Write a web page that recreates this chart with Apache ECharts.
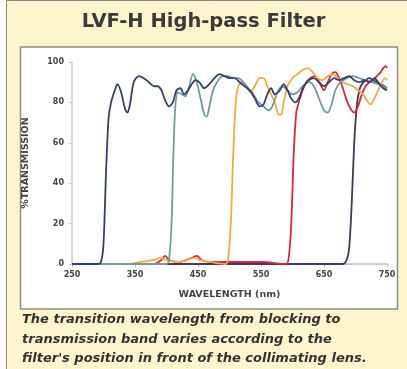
<!DOCTYPE html>
<html>
  <head>
    <meta charset="utf-8">
    <title>LVF-H High-pass Filter</title>
    <style>
      html, body { margin: 0; padding: 0; background: #fff; }
    </style>
  </head>
  <body>
    <div id="main" style="width: 407px;height:369px;"></div>
  </body>
  <script type="text/javascript" src="https://cdn.jsdelivr.net/npm/echarts@6/dist/echarts.min.js"></script>
  <script type="text/javascript">
      // wavelength (nm) / transmission (%)
      var navyNm = [250, 290, 296, 300, 304, 308, 312, 318, 322, 328, 334, 338, 342, 348, 356, 364, 372, 380, 386, 392, 398, 404, 410, 416, 422, 428, 434, 440, 446, 452, 460, 468, 476, 484, 492, 500, 508, 516, 524, 532, 540, 548, 554, 560, 566, 572, 580, 586, 592, 598, 604, 610, 618, 626, 634, 642, 650, 658, 666, 674, 682, 690, 698, 706, 714, 722, 730, 738, 744, 750];
      var navyT  = [0, 0, 1, 10, 45, 72, 80, 86, 89, 85, 77, 75, 79, 90, 93, 92, 90, 88, 88, 86, 81, 78, 80, 86, 87, 84, 86, 89, 91, 90, 87, 89, 92, 94, 93, 92, 92, 90, 88, 86, 82, 78, 79, 84, 87, 84, 86, 89, 86, 82, 80, 82, 88, 91, 92, 90, 88, 90, 92, 91, 92, 93, 91, 90, 91, 90, 92, 89, 87, 86];

      var tealNm = [250, 400, 404, 408, 411, 414, 418, 424, 430, 436, 442, 448, 454, 460, 464, 468, 474, 482, 490, 498, 506, 514, 522, 530, 538, 546, 554, 562, 568, 576, 584, 592, 600, 608, 616, 626, 634, 642, 650, 656, 662, 668, 676, 686, 696, 706, 716, 726, 736, 744, 750];
      var tealT  = [0, 0, 2, 20, 55, 78, 85, 84, 83, 88, 94, 90, 82, 74, 73, 78, 86, 91, 93, 93, 92, 92, 90, 87, 84, 80, 78, 76, 78, 85, 88, 86, 84, 85, 88, 90, 88, 82, 76, 75, 79, 86, 90, 92, 93, 92, 91, 90, 89, 88, 87];

      var orangeNm = [250, 340, 360, 380, 390, 398, 420, 445, 452, 470, 494, 498, 502, 506, 510, 514, 520, 526, 533, 540, 548, 554, 560, 566, 572, 578, 582, 586, 592, 600, 608, 616, 624, 632, 640, 648, 656, 664, 672, 680, 688, 696, 704, 712, 718, 724, 730, 736, 742, 747, 750];
      var orangeT  = [0, 0, 1, 2, 3, 2, 1, 3, 2, 1, 0, 3, 20, 55, 80, 88, 90, 88, 85, 88, 92, 92, 88, 84, 80, 74, 74, 80, 88, 92, 94, 96, 97, 95, 92, 91, 93, 94, 92, 90, 89, 88, 86, 84, 81, 79, 82, 86, 90, 92, 91];

      var redNm = [250, 380, 392, 398, 404, 420, 440, 448, 456, 470, 550, 590, 594, 598, 602, 606, 610, 616, 622, 628, 636, 644, 650, 656, 662, 668, 674, 680, 686, 692, 698, 704, 710, 716, 722, 728, 734, 740, 744, 748, 750];
      var redT  = [0, 0, 2, 4, 2, 1, 3, 4, 2, 1, 1, 0, 3, 20, 55, 75, 80, 86, 90, 92, 93, 89, 86, 90, 94, 95, 92, 87, 81, 77, 75, 78, 84, 88, 90, 91, 93, 95, 97, 98, 97];

      var purpleNm = [250, 680, 686, 690, 694, 698, 702, 706, 710, 716, 722, 728, 734, 740, 746, 750];
      var purpleT  = [0, 0, 2, 8, 30, 60, 78, 86, 89, 91, 92, 91, 90, 89, 88, 87];

      var xTicks = [250, 350, 450, 550, 650, 750];

      var captionLines = [
          'The transition wavelength from blocking to',
          'transmission band varies according to the',
          "filter's position in front of the collimating lens."
      ];

      function pairs(xs, ys) {
          return xs.map(function (x, i) { return [x, ys[i]]; });
      }

      function curve(name, xs, ys, color, z) {
          return {
              name: name,
              type: 'line',
              data: pairs(xs, ys),
              smooth: 0.3,
              showSymbol: false,
              z: z,
              lineStyle: { color: color, width: 1.8 }
          };
      }

      var axisFont = '"DejaVu Sans", sans-serif';
      var myChart = echarts.init(document.getElementById('main'));

      var graphics = [
          { type: 'rect', z: -10, shape: { x: 6.5, y: 0.5, width: 410, height: 380 },
            style: { fill: '#fdf6cd', stroke: '#8a8a80', lineWidth: 1 } },
          { type: 'rect', z: -9, shape: { x: 20.5, y: 47, width: 377, height: 262 },
            style: { fill: '#ffffff', stroke: '#8c8c86', lineWidth: 1.5 } },
          { type: 'text', z: 5, left: 'center', top: 12,
            style: { text: 'LVF-H High-pass Filter', fill: '#3a3a3a',
                     font: 'bold 19.5px "DejaVu Sans", sans-serif' } }
      ];
      captionLines.forEach(function (line, i) {
          graphics.push({ type: 'text', z: 5, left: 22, top: 313.5 + i * 19.5,
            style: { text: line, fill: '#333333',
                     font: 'italic bold 13px "DejaVu Sans", sans-serif' } });
      });

      myChart.setOption({
          animation: false,
          backgroundColor: '#ffffff',
          graphic: graphics,
          grid: { left: 72, right: 20, top: 62, bottom: 105 },
          xAxis: {
              type: 'value',
              min: 250,
              max: 750,
              name: 'WAVELENGTH (nm)',
              nameLocation: 'middle',
              nameGap: 26,
              nameTextStyle: { color: '#444', fontSize: 9.5, fontWeight: 'bold', fontFamily: axisFont },
              axisLine: { lineStyle: { color: '#bbbbbb', width: 1.5 } },
              axisTick: { length: 3, lineStyle: { color: '#bbbbbb' }, customValues: xTicks },
              axisLabel: { color: '#444', fontSize: 8, fontWeight: 'bold', fontFamily: axisFont, margin: 7, customValues: xTicks },
              splitLine: { show: false }
          },
          yAxis: {
              type: 'value',
              min: 0,
              max: 100,
              interval: 20,
              name: '%TRANSMISSION',
              nameLocation: 'middle',
              nameRotate: 90,
              nameGap: 41,
              nameTextStyle: { color: '#444', fontSize: 9.5, fontWeight: 'bold', fontFamily: axisFont },
              axisLine: { show: true, lineStyle: { color: '#cccccc', width: 1.5 } },
              axisTick: { show: true, length: 3, lineStyle: { color: '#cccccc' } },
              axisLabel: { color: '#444', fontSize: 8, fontWeight: 'bold', fontFamily: axisFont, margin: 8 },
              splitLine: { show: false }
          },
          series: [
              curve('purple', purpleNm, purpleT, '#4a3458', 3),
              curve('red', redNm, redT, '#d42a3c', 4),
              curve('orange', orangeNm, orangeT, '#f2aa45', 5),
              curve('teal', tealNm, tealT, '#6f9c9c', 6),
              curve('navy', navyNm, navyT, '#34406e', 7)
          ]
      });
  </script>
</html>
